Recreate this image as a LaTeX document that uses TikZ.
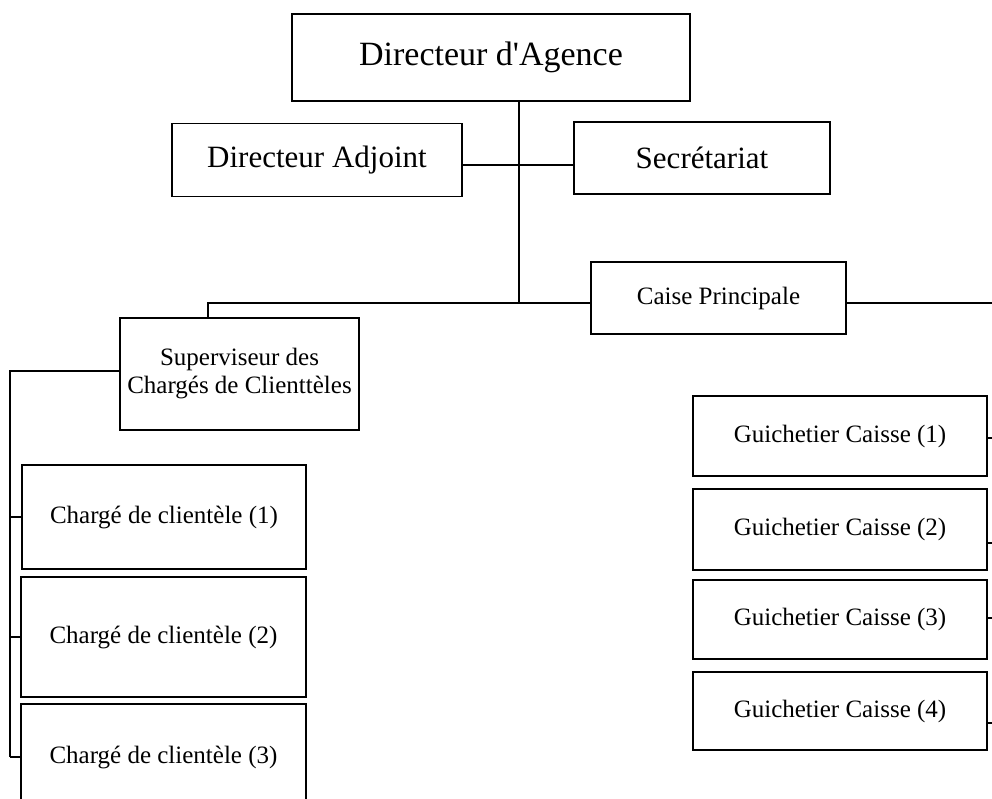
\documentclass[tikz,border=0pt]{standalone}
\usepackage{fontspec}
\setmainfont{Liberation Serif}
\begin{document}
\begin{tikzpicture}[x=1pt,y=-1pt,
  box/.style={draw, line width=1.6pt, rectangle, inner sep=0pt, align=center},
  wire/.style={line width=1.6pt},
  big/.style={font=\fontsize{34}{40}\selectfont},
  mid/.style={font=\fontsize{31}{36}\selectfont},
  small/.style={font=\fontsize{25}{28}\selectfont}]
\useasboundingbox (0,0) rectangle (992,798);
\clip (0,0) rectangle (992,798);

% top level
\node[box,big,minimum width=398pt,minimum height=87pt] (dir) at (491,57.5) {Directeur d\textquotesingle Agence};
\node[box,mid,minimum width=290pt,minimum height=73pt] (adj) at (317,160) {Directeur Adjoint};
\node[box,mid,minimum width=256pt,minimum height=72pt] (sec) at (702,158) {Secrétariat};
\node[box,small,minimum width=255pt,minimum height=72pt] (caise) at (718.5,298) {Caise Principale};
\node[box,small,minimum width=239pt,minimum height=112pt] (sup) at (239.5,374) {Superviseur des\\Chargés de Clienttèles};

% customer officers
\node[box,small,minimum width=284pt,minimum height=104pt] (c1) at (164,517) {Chargé de clientèle (1)};
\node[box,small,minimum width=285pt,minimum height=120pt] (c2) at (163.5,637) {Chargé de clientèle (2)};
\node[box,small,minimum width=285pt,minimum height=106pt] (c3) at (163.5,757) {Chargé de clientèle (3)};

% tellers
\node[box,small,minimum width=294pt,minimum height=80pt] (g1) at (840,436) {Guichetier Caisse (1)};
\node[box,small,minimum width=294pt,minimum height=81pt] (g2) at (840,529.5) {Guichetier Caisse (2)};
\node[box,small,minimum width=294pt,minimum height=79pt] (g3) at (840,619.5) {Guichetier Caisse (3)};
\node[box,small,minimum width=294pt,minimum height=78pt] (g4) at (840,711) {Guichetier Caisse (4)};

% junction points
\coordinate (j) at (519,303);
\coordinate (hy) at (519,165);
\coordinate (sb) at (208,303);
\coordinate (rend) at (992,303);
\coordinate (lx) at (10,371);
\coordinate (rx) at (992,0);

% main trunk and branches
\draw[wire] (j |- dir.south) -- (j);
\draw[wire] (adj.east |- hy) -- (sec.west |- hy);
\draw[wire] (sb |- sup.north) -- (sb) -- (caise.west |- sb);
\draw[wire] (caise.east |- sb) -- (rend);

% left bracket for customer officers
\draw[wire] (sup.west |- lx) -- (lx) -- (lx |- c3.west);
\draw[wire] (lx |- c1.west) -- (c1.west);
\draw[wire] (lx |- c2.west) -- (c2.west);
\draw[wire] (lx |- c3.west) -- (c3.west);

% right ticks for tellers
\draw[wire] (g1.east |- 0,438) -- (rx |- 0,438);
\draw[wire] (g2.east |- 0,543) -- (rx |- 0,543);
\draw[wire] (g3.east |- 0,618) -- (rx |- 0,618);
\draw[wire] (g4.east |- 0,723) -- (rx |- 0,723);
\end{tikzpicture}
\end{document}
